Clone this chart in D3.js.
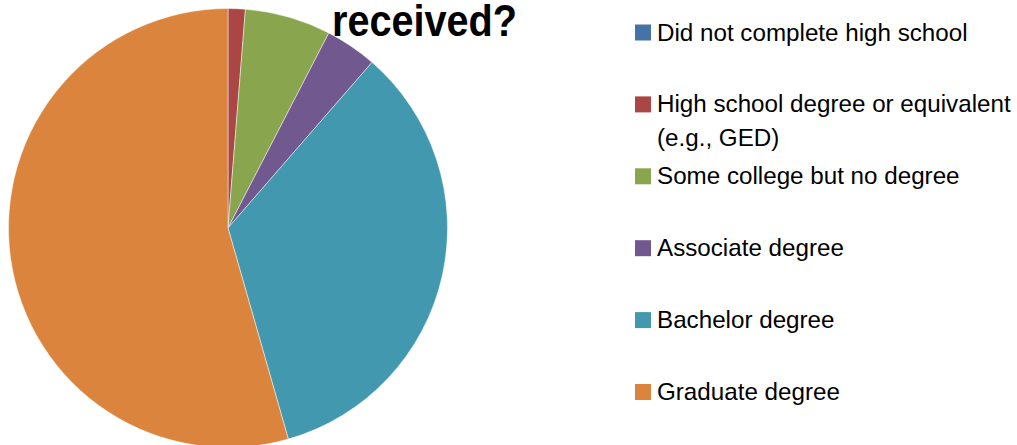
<!DOCTYPE html>
<html>
<head>
<meta charset="utf-8">
<script src="https://cdn.jsdelivr.net/npm/d3@7"></script>
<style>
  html, body { margin: 0; padding: 0; background: #fff; }
  svg { display: block; }
</style>
</head>
<body>
<svg id="chart" width="1017" height="445"></svg>
<script>
const categories = [
  "Did not complete high school",
  "High school degree or equivalent (e.g., GED)",
  "Some college but no degree",
  "Associate degree",
  "Bachelor degree",
  "Graduate degree"
];
const values = [0, 1, 5, 3, 27, 43];
const colors = ["#4572A7", "#AA4643", "#89A54E", "#71588F", "#4198AF", "#DB843D"];
const titleText = "received?";

const svg = d3.select("#chart");
const cx = 228, cy = 228, R = 219.5;

const data = categories.map((c, i) => ({ cat: c, value: values[i] }));

const pie = d3.pie().sort(null).value(d => d.value);
const arc = d3.arc().innerRadius(0).outerRadius(R);
const color = d3.scaleOrdinal().domain(categories).range(colors);

svg.append("g")
  .attr("transform", `translate(${cx},${cy})`)
  .selectAll("path")
  .data(pie(data).filter(d => d.data.value > 0))
  .join("path")
  .attr("d", arc)
  .attr("fill", d => color(d.data.cat))
  .attr("stroke", "#ffffff")
  .attr("stroke-width", 0.6)
  .attr("stroke-opacity", 0.8);

// Title (only its last line is visible in the frame, as in the reference)
svg.append("text")
  .attr("x", 332)
  .attr("y", 35.5)
  .attr("text-anchor", "start")
  .attr("font-family", "'Liberation Sans', Arial, sans-serif")
  .attr("font-weight", "bold")
  .attr("font-size", 45)
  .attr("textLength", 185)
  .attr("lengthAdjust", "spacingAndGlyphs")
  .attr("fill", "#000")
  .text(titleText);

// Legend
const y = d3.scalePoint().domain(categories).range([40.5, 400]);
const items = svg.append("g").selectAll("g").data(data).join("g")
  .attr("transform", d => `translate(0,${y(d.cat)})`);

items.append("rect")
  .attr("x", 635)
  .attr("y", -16)
  .attr("width", 16)
  .attr("height", 16)
  .attr("fill", d => color(d.cat));

const maxW = 370, lineH = 34;
items.append("text")
  .attr("x", 657)
  .attr("y", 0)
  .attr("font-family", "'Liberation Sans', Arial, sans-serif")
  .attr("font-size", 24.2)
  .attr("fill", "#000")
  .each(function(d) {
    const t = d3.select(this);
    const words = d.cat.split(" ");
    let line = [];
    let tspan = t.append("tspan").attr("x", 657).attr("dy", 0);
    words.forEach(w => {
      line.push(w);
      tspan.text(line.join(" "));
      if (tspan.node().getComputedTextLength() > maxW && line.length > 1) {
        line.pop();
        tspan.text(line.join(" "));
        line = [w];
        tspan = t.append("tspan").attr("x", 657).attr("dy", lineH).text(w);
      }
    });
  });
</script>
</body>
</html>
